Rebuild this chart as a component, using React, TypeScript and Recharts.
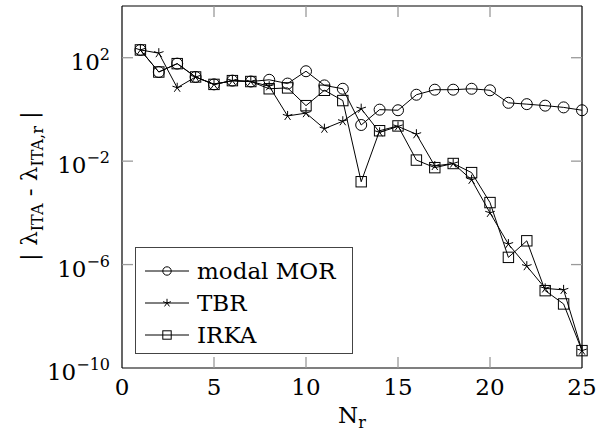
import { Line, LineChart, XAxis, YAxis } from "recharts";

const nr = [1, 2, 3, 4, 5, 6, 7, 8, 9, 10, 11, 12, 13, 14, 15, 16, 17, 18, 19, 20, 21, 22, 23, 24, 25];

const modalMor = [
  2.0e2, 2.8e1, 5.9e1, 1.8e1, 9.3, 1.3e1, 1.2e1, 1.4e1, 1.0e1, 3.0e1, 8.5, 6.3, 0.25,
  0.98, 0.93, 3.7, 5.8, 5.8, 6.3, 5.5, 1.8, 1.6, 1.4, 1.2, 0.93,
];

const tbr = [
  2.0e2, 1.5e2, 6.9, 1.8e1, 9.3, 1.3e1, 1.2e1, 7.9, 0.56, 0.72, 0.18, 0.35, 1.07,
  0.13, 0.22, 0.11, 6.5e-3, 8.1e-3, 1.9e-3, 1.0e-4, 6.2e-6, 8.7e-7, 1.2e-7, 1.05e-7, 4.7e-10,
];

const irka = [
  2.0e2, 2.8e1, 5.9e1, 1.8e1, 9.3, 1.3e1, 1.2e1, 6.3, 6.8, 1.4, 5.5, 2.2, 1.6e-3,
  0.15, 0.23, 1.1e-2, 5.6e-3, 8.1e-3, 3.6e-3, 2.5e-4, 1.9e-6, 8.3e-6, 9.8e-8, 3.0e-8, 4.7e-10,
];

const seriesNames = ["modal MOR", "TBR", "IRKA"];
const xTicks = [0, 5, 10, 15, 20, 25];
const yTicks = [1e2, 1e-2, 1e-6, 1e-10];
const yExponents = ["2", "−2", "−6", "−10"];

const data = nr.map((n, i) => ({ n, modal: modalMor[i], tbr: tbr[i], irka: irka[i] }));

const FONT = "'DejaVu Serif', 'Liberation Serif', serif";
const TICK_GRAY = "#9a9a9a";

function circleMark(cx: number, cy: number, r: number, key?: string) {
  return <circle key={key} cx={cx} cy={cy} r={r} fill="none" stroke="#000" strokeWidth={1} />;
}

function squareMark(cx: number, cy: number, h: number, key?: string) {
  return <rect key={key} x={cx - h} y={cy - h} width={2 * h} height={2 * h} fill="none" stroke="#000" strokeWidth={1} />;
}

function starMark(cx: number, cy: number, r: number, key?: string) {
  const spokes = [0, 1, 2, 3, 4].map((k) => {
    const a = -Math.PI / 2 + (k * 2 * Math.PI) / 5;
    return `M${cx},${cy}L${cx + r * Math.cos(a)},${cy + r * Math.sin(a)}`;
  });
  return <path key={key} d={spokes.join("")} stroke="#000" strokeWidth={1} fill="none" />;
}

const XTick = (props: any) => {
  const { x, y, payload } = props;
  const inner = payload.value !== 0 && payload.value !== 25;
  return (
    <g>
      {inner && <line x1={x} y1={y} x2={x} y2={y - 11} stroke={TICK_GRAY} strokeWidth={1.3} />}
      <text x={x} y={y + 27} textAnchor="middle" fontFamily={FONT} fontSize={23} fill="#000">
        {payload.value}
      </text>
    </g>
  );
};

const XTopTick = (props: any) => {
  const { x, y, payload } = props;
  if (payload.value === 0 || payload.value === 25) return <g />;
  return <line x1={x} y1={y} x2={x} y2={y + 11} stroke={TICK_GRAY} strokeWidth={1.3} />;
};

const YTick = (props: any) => {
  const { x, y, index } = props;
  const inner = index !== 3;
  return (
    <g>
      {inner && <line x1={x} y1={y} x2={x + 11} y2={y} stroke={TICK_GRAY} strokeWidth={1.3} />}
      <text x={x - 12} y={y + 12} textAnchor="end" fontFamily={FONT} fontSize={23} fill="#000">
        10
        <tspan dy={-10} fontSize={16}>
          {yExponents[index]}
        </tspan>
      </text>
    </g>
  );
};

const YRightTick = (props: any) => {
  const { x, y, index } = props;
  if (index === 3) return <g />;
  return <line x1={x} y1={y} x2={x - 11} y2={y} stroke={TICK_GRAY} strokeWidth={1.3} />;
};

const legendMarks = [
  (cx: number, cy: number) => circleMark(cx, cy, 4.2),
  (cx: number, cy: number) => starMark(cx, cy, 4.2),
  (cx: number, cy: number) => squareMark(cx, cy, 4.2),
];

const LegendBox = () => (
  <div
    style={{
      position: "absolute",
      left: 135,
      top: 247,
      width: 218,
      height: 107,
      border: "1px solid #444",
      background: "#fff",
      fontFamily: FONT,
      fontSize: 23,
      paddingTop: 7,
      boxSizing: "border-box",
    }}
  >
    {seriesNames.map((name, i) => (
      <div key={name} style={{ display: "flex", alignItems: "center", height: 32 }}>
        <svg width={52} height={20} style={{ marginLeft: 9, flex: "none" }}>
          <line x1={0} y1={10} x2={44} y2={10} stroke="#000" strokeWidth={1} />
          {legendMarks[i](22, 10)}
        </svg>
        <span style={{ lineHeight: "32px", whiteSpace: "nowrap" }}>{name}</span>
      </div>
    ))}
  </div>
);

const YLabel = () => (
  <text x={37} y={186} transform="rotate(-90, 37, 186)" textAnchor="middle" fontFamily={FONT} fontSize={23} fill="#000">
    | λ
    <tspan dy={6} fontSize={16}>ITA</tspan>
    <tspan dy={-6}> - λ</tspan>
    <tspan dy={6} fontSize={16}>ITA,r</tspan>
    <tspan dy={-6}> |</tspan>
  </text>
);

const XLabel = () => (
  <text x={352} y={423} textAnchor="middle" fontFamily={FONT} fontSize={23} fill="#000">
    N
    <tspan dy={5} fontSize={16}>r</tspan>
  </text>
);

export default function App() {
  return (
    <div style={{ position: "absolute", left: 0, top: 0, width: 604, height: 441, background: "#fff" }}>
      <LineChart width={604} height={441} data={data} margin={{ top: 5, right: 21, bottom: 0, left: 0 }}>
        <XAxis
          dataKey="n"
          type="number"
          domain={[0, 25]}
          ticks={xTicks}
          height={73}
          tickSize={0}
          tickMargin={0}
          tickLine={false}
          axisLine={{ stroke: "#000", strokeWidth: 1.2 }}
          tick={<XTick />}
          label={{ content: () => <XLabel /> }}
        />
        <XAxis
          xAxisId="top"
          orientation="top"
          dataKey="n"
          type="number"
          domain={[0, 25]}
          ticks={xTicks}
          height={1}
          tickSize={0}
          tickMargin={0}
          tickLine={false}
          axisLine={{ stroke: "#000", strokeWidth: 1.2 }}
          tick={<XTopTick />}
        />
        <YAxis
          scale="log"
          domain={[1e-10, 1e4]}
          allowDataOverflow
          ticks={yTicks}
          width={122}
          tickSize={0}
          tickMargin={0}
          tickLine={false}
          axisLine={{ stroke: "#000", strokeWidth: 1.2 }}
          tick={<YTick />}
          label={{ content: () => <YLabel /> }}
        />
        <YAxis
          yAxisId="right"
          orientation="right"
          scale="log"
          domain={[1e-10, 1e4]}
          allowDataOverflow
          ticks={yTicks}
          width={1}
          tickSize={0}
          tickMargin={0}
          tickLine={false}
          axisLine={{ stroke: "#000", strokeWidth: 1.2 }}
          tick={<YRightTick />}
        />
        <Line
          dataKey="modal"
          name={seriesNames[0]}
          stroke="#000"
          strokeWidth={1}
          isAnimationActive={false}
          dot={(p: any) => circleMark(p.cx, p.cy, 5.5, `c${p.index}`)}
        />
        <Line
          dataKey="tbr"
          name={seriesNames[1]}
          stroke="#000"
          strokeWidth={1}
          isAnimationActive={false}
          dot={(p: any) => starMark(p.cx, p.cy, 5, `s${p.index}`)}
        />
        <Line
          dataKey="irka"
          name={seriesNames[2]}
          xAxisId="top"
          yAxisId="right"
          stroke="#000"
          strokeWidth={1}
          isAnimationActive={false}
          dot={(p: any) => squareMark(p.cx, p.cy, 5.2, `q${p.index}`)}
        />
      </LineChart>
      <LegendBox />
    </div>
  );
}
